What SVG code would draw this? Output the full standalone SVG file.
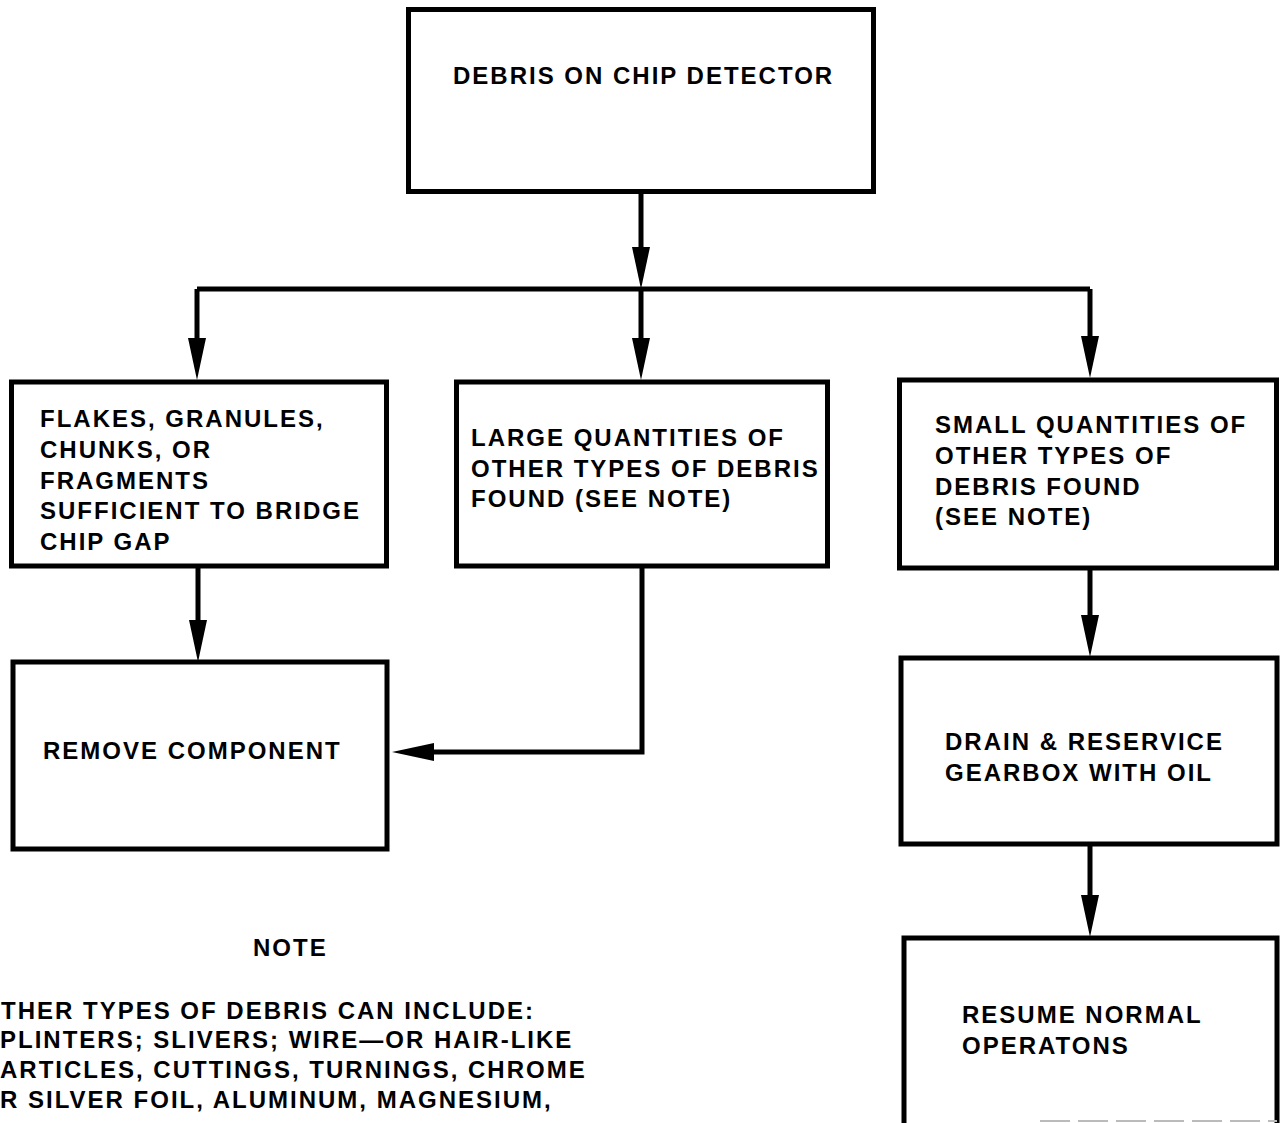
<svg xmlns="http://www.w3.org/2000/svg" width="1282" height="1123" viewBox="0 0 1282 1123">
<style>
.box{fill:#fff;stroke:#000;stroke-width:5}
.t{font-family:"Liberation Sans",Arial,sans-serif;font-weight:bold;font-size:24px;letter-spacing:2px;fill:#000}
.c{fill:none;stroke:#000;stroke-width:5}
</style>
<defs>
<marker id="ah" markerUnits="userSpaceOnUse" markerWidth="44" markerHeight="22" refX="2" refY="10" orient="auto">
<path d="M0,1 L42,10 L0,19 Z" fill="#000"/>
</marker>
</defs>
<rect width="1282" height="1123" fill="#fff"/>
<g id="connectors">
<path class="c" d="M641,193 V249" marker-end="url(#ah)"/>
<path class="c" d="M197,289 H1090"/>
<path class="c" d="M197,289 V340" marker-end="url(#ah)"/>
<path class="c" d="M641,289 V340" marker-end="url(#ah)"/>
<path class="c" d="M1090,289 V338" marker-end="url(#ah)"/>
<path class="c" d="M198,568 V622" marker-end="url(#ah)"/>
<path class="c" d="M642,568 V752 H432" marker-end="url(#ah)"/>
<path class="c" d="M1090,570 V617" marker-end="url(#ah)"/>
<path class="c" d="M1090,846 V897" marker-end="url(#ah)"/>
</g>
<g id="n-debris">
<rect class="box" x="408.5" y="9.5" width="465" height="182"/>
<text class="t" x="453" y="84">DEBRIS ON CHIP DETECTOR</text>
</g>
<g id="n-flakes">
<rect class="box" x="11.5" y="382" width="375" height="184"/>
<text class="t" x="40" y="427">FLAKES, GRANULES,</text>
<text class="t" x="40" y="458">CHUNKS, OR</text>
<text class="t" x="40" y="489">FRAGMENTS</text>
<text class="t" x="40" y="519">SUFFICIENT TO BRIDGE</text>
<text class="t" x="40" y="550">CHIP GAP</text>
</g>
<g id="n-large">
<rect class="box" x="456.5" y="382" width="371" height="184"/>
<text class="t" x="471" y="446">LARGE QUANTITIES OF</text>
<text class="t" x="471" y="477">OTHER TYPES OF DEBRIS</text>
<text class="t" x="471" y="507">FOUND (SEE NOTE)</text>
</g>
<g id="n-small">
<rect class="box" x="899.5" y="380" width="377" height="188"/>
<text class="t" x="935" y="433">SMALL QUANTITIES OF</text>
<text class="t" x="935" y="464">OTHER TYPES OF</text>
<text class="t" x="935" y="495">DEBRIS FOUND</text>
<text class="t" x="935" y="525">(SEE NOTE)</text>
</g>
<g id="n-remove">
<rect class="box" x="13" y="662" width="374" height="187"/>
<text class="t" x="43" y="759">REMOVE COMPONENT</text>
</g>
<g id="n-drain">
<rect class="box" x="901" y="658" width="376" height="186"/>
<text class="t" x="945" y="750">DRAIN &amp; RESERVICE</text>
<text class="t" x="945" y="781">GEARBOX WITH OIL</text>
</g>
<g id="n-resume">
<path class="box" d="M904,1123 V938 H1277 V1123"/>
<path d="M1040,1121 H1277" stroke="#bbb" stroke-width="2" stroke-dasharray="30,8"/>
<text class="t" x="962" y="1023">RESUME NORMAL</text>
<text class="t" x="962" y="1054">OPERATONS</text>
</g>
<g id="note">
<text class="t" x="253" y="956">NOTE</text>
<text class="t" x="1" y="1019">THER TYPES OF DEBRIS CAN INCLUDE:</text>
<text class="t" x="0" y="1048">PLINTERS; SLIVERS; WIRE—OR HAIR-LIKE</text>
<text class="t" x="0" y="1078">ARTICLES, CUTTINGS, TURNINGS, CHROME</text>
<text class="t" x="0" y="1108">R SILVER FOIL, ALUMINUM, MAGNESIUM,</text>
</g>
</svg>
